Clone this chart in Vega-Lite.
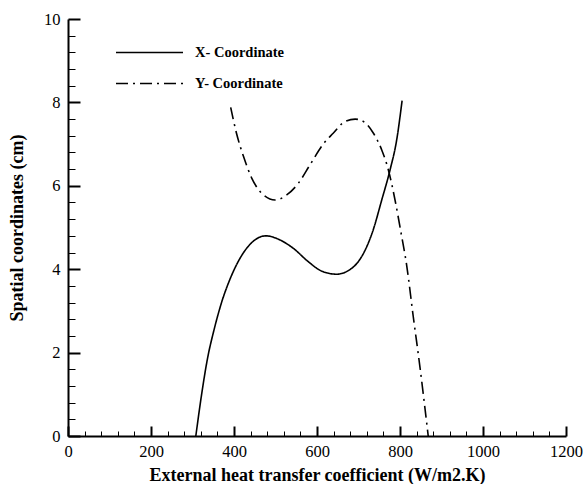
{
  "$schema": "https://vega.github.io/schema/vega-lite/v6.json",
  "width": 498,
  "height": 417,
  "autosize": {"type": "none"},
  "padding": {"left": 68, "top": 19, "right": 17, "bottom": 48},
  "background": "white",
  "config": {
    "view": {"stroke": null},
    "font": "Liberation Serif",
    "axis": {
      "domainColor": "black",
      "domainWidth": 2,
      "tickColor": "black",
      "grid": false,
      "labelFont": "Liberation Serif",
      "labelFontSize": 16.5,
      "labelColor": "black",
      "titleFont": "Liberation Serif",
      "titleFontSize": 18,
      "titleFontWeight": "bold",
      "titleColor": "black"
    },
    "legend": {
      "title": null,
      "orient": "none",
      "symbolType": "stroke",
      "symbolSize": 4489,
      "symbolStrokeColor": "black",
      "symbolStrokeWidth": 1.6,
      "labelFont": "Liberation Serif",
      "labelFontSize": 14.5,
      "labelFontWeight": "bold",
      "labelColor": "black",
      "labelOffset": 11,
      "padding": 0
    }
  },
  "data": {
    "values": [
      {"h": 308, "coord": 0.0, "series": "X- Coordinate"},
      {"h": 322, "coord": 1.00, "series": "X- Coordinate"},
      {"h": 336, "coord": 1.85, "series": "X- Coordinate"},
      {"h": 352, "coord": 2.55, "series": "X- Coordinate"},
      {"h": 370, "coord": 3.20, "series": "X- Coordinate"},
      {"h": 392, "coord": 3.80, "series": "X- Coordinate"},
      {"h": 418, "coord": 4.32, "series": "X- Coordinate"},
      {"h": 443, "coord": 4.64, "series": "X- Coordinate"},
      {"h": 477, "coord": 4.80, "series": "X- Coordinate"},
      {"h": 511, "coord": 4.70, "series": "X- Coordinate"},
      {"h": 543, "coord": 4.50, "series": "X- Coordinate"},
      {"h": 579, "coord": 4.18, "series": "X- Coordinate"},
      {"h": 610, "coord": 3.96, "series": "X- Coordinate"},
      {"h": 647, "coord": 3.88, "series": "X- Coordinate"},
      {"h": 686, "coord": 4.04, "series": "X- Coordinate"},
      {"h": 712, "coord": 4.38, "series": "X- Coordinate"},
      {"h": 734, "coord": 4.90, "series": "X- Coordinate"},
      {"h": 756, "coord": 5.66, "series": "X- Coordinate"},
      {"h": 776, "coord": 6.38, "series": "X- Coordinate"},
      {"h": 792, "coord": 7.10, "series": "X- Coordinate"},
      {"h": 805, "coord": 8.04, "series": "X- Coordinate"},
      {"h": 392, "coord": 7.88, "series": "Y- Coordinate"},
      {"h": 406, "coord": 7.26, "series": "Y- Coordinate"},
      {"h": 423, "coord": 6.70, "series": "Y- Coordinate"},
      {"h": 443, "coord": 6.18, "series": "Y- Coordinate"},
      {"h": 471, "coord": 5.78, "series": "Y- Coordinate"},
      {"h": 499, "coord": 5.66, "series": "Y- Coordinate"},
      {"h": 527, "coord": 5.78, "series": "Y- Coordinate"},
      {"h": 555, "coord": 6.06, "series": "Y- Coordinate"},
      {"h": 583, "coord": 6.50, "series": "Y- Coordinate"},
      {"h": 615, "coord": 7.00, "series": "Y- Coordinate"},
      {"h": 639, "coord": 7.26, "series": "Y- Coordinate"},
      {"h": 667, "coord": 7.54, "series": "Y- Coordinate"},
      {"h": 692, "coord": 7.60, "series": "Y- Coordinate"},
      {"h": 712, "coord": 7.54, "series": "Y- Coordinate"},
      {"h": 736, "coord": 7.26, "series": "Y- Coordinate"},
      {"h": 756, "coord": 6.86, "series": "Y- Coordinate"},
      {"h": 772, "coord": 6.38, "series": "Y- Coordinate"},
      {"h": 788, "coord": 5.66, "series": "Y- Coordinate"},
      {"h": 802, "coord": 4.90, "series": "Y- Coordinate"},
      {"h": 816, "coord": 4.10, "series": "Y- Coordinate"},
      {"h": 832, "coord": 2.86, "series": "Y- Coordinate"},
      {"h": 848, "coord": 1.66, "series": "Y- Coordinate"},
      {"h": 868, "coord": 0.0, "series": "Y- Coordinate"}
    ]
  },
  "encoding": {
    "x": {
      "field": "h",
      "type": "quantitative",
      "scale": {"domain": [0, 1200], "nice": false},
      "axis": {
        "title": "External heat transfer coefficient (W/m2.K)",
        "values": [0, 40, 80, 120, 160, 200, 240, 280, 320, 360, 400, 440, 480, 520, 560, 600, 640, 680, 720, 760, 800, 840, 880, 920, 960, 1000, 1040, 1080, 1120, 1160, 1200],
        "labelExpr": "datum.value % 200 === 0 ? datum.label : ''",
        "format": "d",
        "tickSize": {"condition": {"test": "datum.value % 200 === 0", "value": -10}, "value": -5},
        "tickWidth": {"condition": {"test": "datum.value % 200 === 0", "value": 2}, "value": 1},
        "labelPadding": 17,
        "labelFlush": false,
        "labelOverlap": false,
        "titlePadding": 2
      }
    },
    "y": {
      "field": "coord",
      "type": "quantitative",
      "scale": {"domain": [0, 10], "nice": false},
      "axis": {
        "title": "Spatial coordinates (cm)",
        "values": [0, 0.4, 0.8, 1.2, 1.6, 2, 2.4, 2.8, 3.2, 3.6, 4, 4.4, 4.8, 5.2, 5.6, 6, 6.4, 6.8, 7.2, 7.6, 8, 8.4, 8.8, 9.2, 9.6, 10],
        "labelExpr": "abs(datum.value % 2) < 0.001 ? format(datum.value, 'd') : ''",
        "tickSize": {"condition": {"test": "abs(datum.value % 2) < 0.001", "value": -12}, "value": -7},
        "tickWidth": {"condition": {"test": "abs(datum.value % 2) < 0.001", "value": 2}, "value": 1},
        "labelPadding": 20,
        "labelFlush": false,
        "labelOverlap": false,
        "titlePadding": 17
      }
    }
  },
  "layer": [
    {
      "transform": [{"filter": "datum.series === 'X- Coordinate'"}],
      "mark": {"type": "line", "color": "black", "strokeWidth": 1.6, "interpolate": "monotone"},
      "encoding": {
        "strokeDash": {
          "field": "series",
          "type": "nominal",
          "scale": {"domain": ["X- Coordinate"], "range": [[1, 0]]},
          "legend": {"legendX": 47, "legendY": -1}
        }
      }
    },
    {
      "transform": [{"filter": "datum.series === 'Y- Coordinate'"}],
      "mark": {"type": "line", "color": "black", "strokeWidth": 1.6, "interpolate": "monotone"},
      "encoding": {
        "strokeDash": {
          "field": "series",
          "type": "nominal",
          "scale": {"domain": ["Y- Coordinate"], "range": [[12, 5, 2, 5]]},
          "legend": {"legendX": 47, "legendY": 30}
        }
      }
    }
  ],
  "resolve": {"scale": {"strokeDash": "independent"}, "legend": {"strokeDash": "independent"}}
}
